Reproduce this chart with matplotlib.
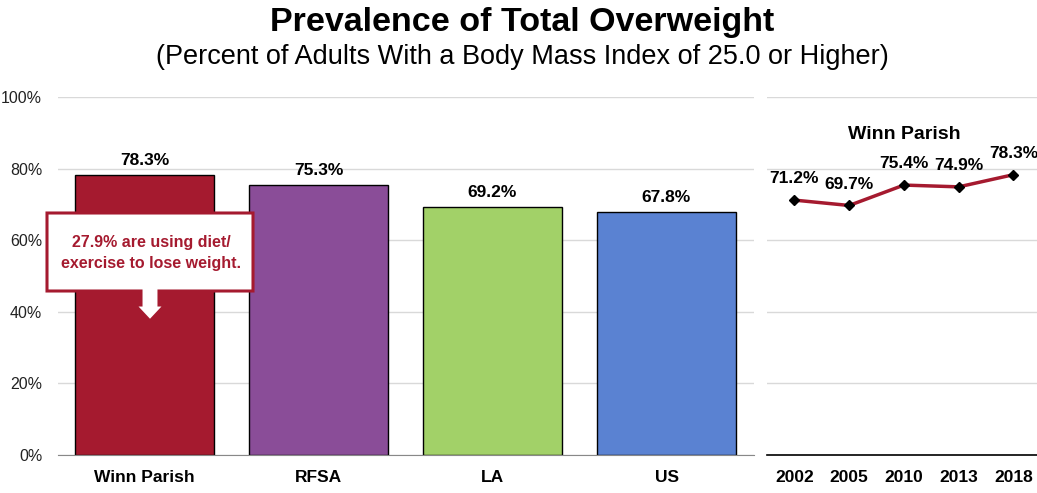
import matplotlib
matplotlib.use("Agg")
import matplotlib.pyplot as plt
from matplotlib import font_manager
from matplotlib.patches import Polygon

names = {f.name for f in font_manager.fontManager.ttflist}
FONT = "Liberation Sans Narrow" if "Liberation Sans Narrow" in names else "Liberation Sans"
plt.rcParams["font.family"] = [FONT, "DejaVu Sans"]

# ---- data ----
categories = ["Winn Parish", "RFSA", "LA", "US"]
values = [78.3, 75.3, 69.2, 67.8]
bar_colors = ["#A51A2F", "#8A4D98", "#A2D168", "#5A82D2"]

years = ["2002", "2005", "2010", "2013", "2018"]
trend = [71.2, 69.7, 75.4, 74.9, 78.3]

yticks = [0, 20, 40, 60, 80, 100]
ytick_labels = ["0%", "20%", "40%", "60%", "80%", "100%"]

title = "Prevalence of Total Overweight"
subtitle = "(Percent of Adults With a Body Mass Index of 25.0 or Higher)"
callout = "27.9% are using diet/\nexercise to lose weight."
trend_title = "Winn Parish"

CRIMSON = "#A51A2F"
W, H = 1037, 493
fig = plt.figure(figsize=(W / 100, H / 100), dpi=100)

bottom = 38 / H
height = 358 / H
ax = fig.add_axes([57.5 / W, bottom, 696 / W, height])
ax2 = fig.add_axes([767 / W, bottom, (W - 767) / W, height])

# ---- left bar chart ----
x = list(range(len(categories)))
ax.bar(x, values, width=0.8, color=bar_colors, edgecolor="black", linewidth=1, zorder=3)
for xi, v in zip(x, values):
    ax.annotate(f"{v:.1f}%", (xi, v), xytext=(0, 5), textcoords="offset points",
                ha="center", va="bottom", fontsize=12.5, fontweight="bold", zorder=5)
ax.set_xlim(-0.5, len(categories) - 0.5)
ax.set_ylim(0, 100)
ax.set_yticks(yticks)
ax.set_yticklabels(ytick_labels, fontsize=11.5, color="#222222")
ax.set_xticks(x)
ax.set_xticklabels(categories, fontsize=12.5, fontweight="bold")
ax.tick_params(axis="both", length=0)
ax.tick_params(axis="y", pad=11)
ax.tick_params(axis="x", pad=11)
ax.grid(axis="y", color="#D9D9D9", linewidth=1, zorder=0)
for s in ["top", "right", "left"]:
    ax.spines[s].set_visible(False)
ax.spines["bottom"].set_color("#888888")
ax.spines["bottom"].set_zorder(4)

# ---- callout (box with downward arrow), pixel geometry -> data coords ----
def px2data(px, py):
    xd = (px - 57.5) / 696 * 4 - 0.5
    yd = (455 - py) / 358 * 100
    return (xd, yd)

pts_px = [(47, 213), (253, 213), (253, 291), (159, 291), (159, 305), (165, 305),
          (150, 321), (135, 305), (141, 305), (141, 291), (47, 291)]
poly = Polygon([px2data(*p) for p in pts_px], closed=True, facecolor="white",
               edgecolor=CRIMSON, linewidth=2.2, zorder=6, clip_on=False, joinstyle="miter")
ax.add_patch(poly)
cx, cy = px2data(151, 253)
ax.text(cx, cy, callout, ha="center", va="center", color=CRIMSON, fontsize=11.5,
        fontweight="bold", zorder=7, linespacing=1.45)

# ---- right trend line ----
xt = list(range(len(years)))
ax2.plot(xt, trend, color=CRIMSON, linewidth=2.5, marker="D", markersize=5.5,
         markerfacecolor="black", markeredgecolor="black", zorder=4)
for xi, v in zip(xt, trend):
    ax2.annotate(f"{v:.1f}%", (xi, v), xytext=(0, 10), textcoords="offset points",
                 ha="center", va="bottom", fontsize=12.5, fontweight="bold", zorder=5)
ax2.set_xlim(-0.5, len(years) - 0.57)
ax2.set_ylim(0, 100)
ax2.set_yticks(yticks)
ax2.set_yticklabels([])
ax2.set_xticks(xt)
ax2.set_xticklabels(years, fontsize=12.5, fontweight="bold")
ax2.tick_params(axis="both", length=0)
ax2.tick_params(axis="x", pad=11)
ax2.grid(axis="y", color="#D9D9D9", linewidth=1, zorder=0)
for s in ["top", "right", "left"]:
    ax2.spines[s].set_visible(False)
ax2.spines["bottom"].set_color("black")
ax2.spines["bottom"].set_linewidth(1.2)
ax2.text(2, 89.5, trend_title, ha="center", va="center", fontsize=14, fontweight="bold")

# ---- titles ----
fig.text(522 / W, 1 - 23 / H, title, ha="center", va="center", fontsize=24.5, fontweight="bold")
fig.text(522 / W, 1 - 57 / H, subtitle, ha="center", va="center", fontsize=19.5)

fig.savefig("out.png", dpi=100)
